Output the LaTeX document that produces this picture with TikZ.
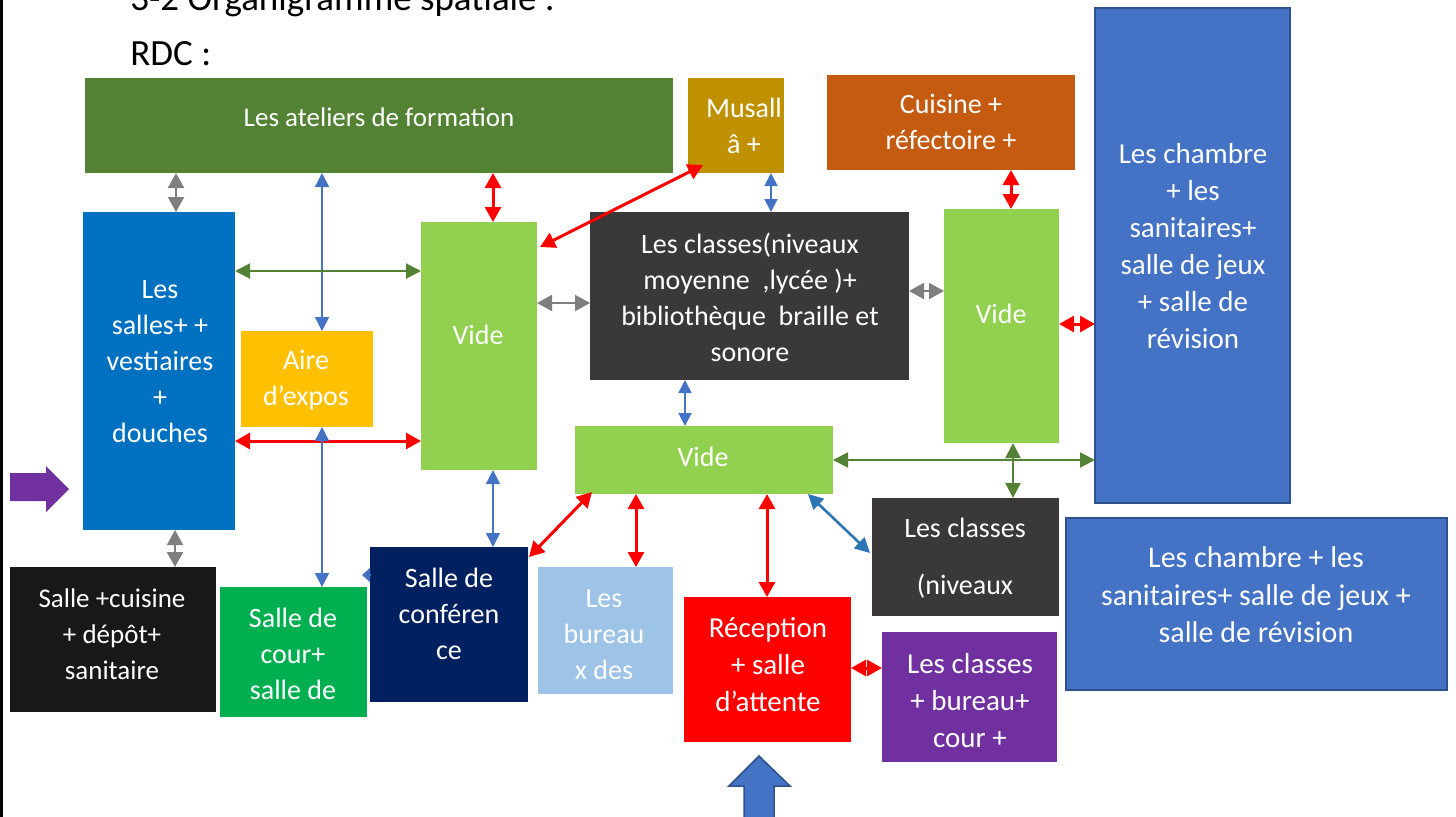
\documentclass[tikz,border=0pt]{standalone}
\usepackage{fontspec}
\setmainfont{Carlito}
\usetikzlibrary{arrows.meta}
\definecolor{cAtelier}{HTML}{548235}
\definecolor{cMusalla}{HTML}{BF9000}
\definecolor{cCuisine}{HTML}{C55A11}
\definecolor{cChambre}{HTML}{4472C4}
\definecolor{cChambreB}{HTML}{2F528F}
\definecolor{cSalles}{HTML}{0070C0}
\definecolor{cAire}{HTML}{FFC000}
\definecolor{cVide}{HTML}{92D050}
\definecolor{cDark}{HTML}{3A3838}
\definecolor{cBlack}{HTML}{181818}
\definecolor{cCour}{HTML}{00B050}
\definecolor{cNavy}{HTML}{002060}
\definecolor{cBureau}{HTML}{9DC3E6}
\definecolor{cRecep}{HTML}{FF0000}
\definecolor{cPurple}{HTML}{7030A0}
\definecolor{aGray}{HTML}{7F7F7F}
\definecolor{aGreen}{HTML}{548235}
\definecolor{aBlue}{HTML}{4472C4}
\definecolor{aBlueD}{HTML}{2E75B6}
\definecolor{aRed}{HTML}{FF0000}
\tikzset{
  box/.style={rectangle, draw=none, inner sep=0pt, outer sep=0pt},
  lbl/.style={text=white, align=center, inner sep=0pt, font=\fontsize{14}{18}\selectfont},
  lblA/.style={lbl, font=\fontsize{13.5}{18}\selectfont},
  lblB/.style={lbl, font=\fontsize{14.5}{18.5}\selectfont},
  lblC/.style={lbl, font=\fontsize{15}{18.8}\selectfont},
  redar/.style={draw=aRed, line width=1.5pt, {Triangle[width=8pt,length=7.5pt]}-{Triangle[width=8pt,length=7.5pt]}},
  grayar/.style={draw=aGray, line width=1pt, {Triangle[width=8pt,length=7.5pt]}-{Triangle[width=8pt,length=7.5pt]}},
  greenar/.style={draw=aGreen, line width=1pt, {Triangle[width=7.5pt,length=7.5pt]}-{Triangle[width=7.5pt,length=7.5pt]}},
  bluethin/.style={draw=aBlue, line width=0.7pt, {Triangle[width=7pt,length=7pt]}-{Triangle[width=7pt,length=7pt]}},
  bluemed/.style={draw=aBlue, line width=0.9pt, {Triangle[width=6.5pt,length=6.5pt]}-{Triangle[width=6.5pt,length=6.5pt]}},
  bluediag/.style={draw=aBlueD, line width=1.3pt, {Triangle[width=7.5pt,length=7.5pt]}-{Triangle[width=7.5pt,length=7.5pt]}},
}
\newcommand\bx[6]{\node[box,fill=#6,minimum width={(#4-#2)*0.5pt},minimum height={(#5-#3)*0.5pt}] (#1) at ({(#2+#4)/2},{(#3+#5)/2}) {};}
\begin{document}
\begin{tikzpicture}[x=0.5pt,y=-0.5pt]
\useasboundingbox (0,0) rectangle (1456,816);
\clip (0,0) rectangle (1456,816);
\fill[white] (0,0) rectangle (1456,816);
% left border
\draw[line width=1.2pt] (1.5,-5) -- (1.5,820);
% titles
\node[anchor=base west, inner sep=0pt, font=\fontsize{18.5}{22}\selectfont] (title) at (130,10) {3-2 Organigramme spatiale :};
\node[anchor=base west, inner sep=0pt, font=\fontsize{18.5}{22}\selectfont] (rdc) at (130,65) {RDC :};
% boxes
\bx{ateliers}{85}{78}{673}{173}{cAtelier}
\bx{musalla}{688}{78}{784}{173}{cMusalla}
\bx{cuisine}{827}{75}{1075}{170}{cCuisine}
\node[box,fill=cChambre,draw=cChambreB,line width=1pt,minimum width=97.5pt,minimum height=247.5pt] (chambre1) at (1192.5,255.5) {};
\bx{salles}{83}{212}{235}{530}{cSalles}
\bx{aire}{241}{331}{373}{427}{cAire}
\bx{videL}{421}{222}{537}{470}{cVide}
\bx{classes1}{590}{212}{909}{380}{cDark}
\bx{videR}{944}{209}{1059}{443}{cVide}
\bx{videM}{575}{426}{833}{494}{cVide}
\bx{classes2}{872}{498}{1059}{616}{cDark}
\node[box,fill=cChambre,draw=cChambreB,line width=1pt,minimum width=190.5pt,minimum height=86pt] (chambre2) at (1256.5,604) {};
\bx{salle3}{10}{567}{216}{712}{cBlack}
\bx{cour}{220}{587}{367}{717}{cCour}
\bx{conf}{370}{547}{528}{702}{cNavy}
\bx{bureaux}{538}{567}{673}{694}{cBureau}
\bx{reception}{684}{597}{851}{742}{cRecep}
\bx{purple}{882}{632}{1057}{762}{cPurple}
% labels
\node[lblA] (ateliers-t) at (379,117) {Les ateliers de formation};
\node[lbl] (musalla-t) at (744,126) {Musall\\â +};
\node[lbl] (cuisine-t) at (951,122) {Cuisine +\\réfectoire +};
\node[lblB] (chambre1-t) at (1193,246) {Les chambre\\+ les\\sanitaires+\\salle de jeux\\+ salle de\\révision};
\node[lbl] (salles-t) at (160,362) {Les\\salles+ +\\vestiaires\\+\\douches};
\node[lbl] (aire-t) at (306,380) {Aire\\d’expos};
\node[lbl] (videL-t) at (478,335) {Vide};
\node[lbl] (classes1-t) at (750,297) {Les classes(niveaux\\moyenne\ \ ,lycée )+\\bibliothèque\ \ braille et\\sonore};
\node[lbl] (videR-t) at (1001,314) {Vide};
\node[lbl] (videM-t) at (703,457) {Vide};
\node[lbl] (classes2-t) at (965,558) {Les classes\\[10.5pt](niveaux};
\node[lblC] (chambre2-t) at (1256,595) {Les chambre + les\\sanitaires+ salle de jeux +\\salle de révision};
\node[lblA] (salle3-t) at (112,634) {Salle +cuisine\\+ dépôt+\\sanitaire};
\node[lbl] (cour-t) at (293,654) {Salle de\\cour+\\salle de};
\node[lbl] (conf-t) at (449,614) {Salle de\\conféren\\ce};
\node[lbl] (bureaux-t) at (604,635) {Les\\bureau\\x des};
\node[lblB] (reception-t) at (768,665) {Réception\\+ salle\\d’attente};
\node[lblB] (purple-t) at (970,701) {Les classes\\+ bureau+\\cour +};
% connectors
\draw[grayar] (ateliers.south -| 176,0) -- (salles.north -| 176,0);
\draw[bluethin] (ateliers.south -| 322,0) -- (aire.north -| 322,0);
\draw[redar] (ateliers.south -| 493,0) -- (videL.north -| 493,0);
\draw[redar] ([shift={(15,-8)}]musalla.south west) -- ([shift={(3,25)}]videL.north east);
\draw[bluemed] (musalla.south -| 771,0) -- (classes1.north -| 771,0);
\draw[redar] (cuisine.south -| 1011,0) -- (videR.north -| 1011,0);
\draw[greenar] (salles.east |- 0,271) -- (videL.west |- 0,271);
\draw[grayar] (videL.east |- 0,303) -- (classes1.west |- 0,303);
\draw[grayar] (classes1.east |- 0,291) -- (videR.west |- 0,291);
\draw[redar] (videR.east |- 0,324) -- (chambre1.west |- 0,324);
\draw[redar] (salles.east |- 0,441) -- (videL.west |- 0,441);
\draw[bluethin] (aire.south -| 322,0) -- (cour.north -| 322,0);
\draw[bluemed] (classes1.south -| 685,0) -- (videM.north -| 685,0);
\draw[greenar] (videM.east |- 0,460) -- (chambre1.west |- 0,460);
\draw[greenar] (videR.south -| 1013,0) -- (classes2.north -| 1013,0);
\draw[bluethin] (videL.south -| 493,0) -- (conf.north -| 493,0);
\draw[redar] ([shift={(17,-2)}]videM.south west) -- ([shift={(1,10)}]conf.north east);
\draw[redar] (videM.south -| 636,0) -- (bureaux.north -| 636,0);
\draw[redar] (videM.south -| 767,0) -- (reception.north -| 767,0);
\draw[bluediag] ([shift={(-25,0)}]videM.south east) -- ([shift={(-2,55)}]classes2.north west);
\draw[redar] (reception.east |- 0,668) -- (purple.west |- 0,668);
\draw[grayar] (salles.south -| 175,0) -- (salle3.north -| 175,0);
\coordinate (confw) at (conf.west |- 0,575);
\draw[draw=aBlue, line width=0.7pt, -{Triangle[width=7pt,length=4pt]}] (confw) -- ++(-8,0);
% block arrows
\fill[cPurple] (10,473) -- (46,473) -- (46,466) -- (69,489) -- (46,512) -- (46,501) -- (10,501) -- cycle;
\filldraw[fill=cChambre, draw=cChambreB, line width=0.75pt] (744,818) -- (744,786) -- (729,786) -- (759,756) -- (790,786) -- (774,786) -- (774,818);
\end{tikzpicture}
\end{document}
